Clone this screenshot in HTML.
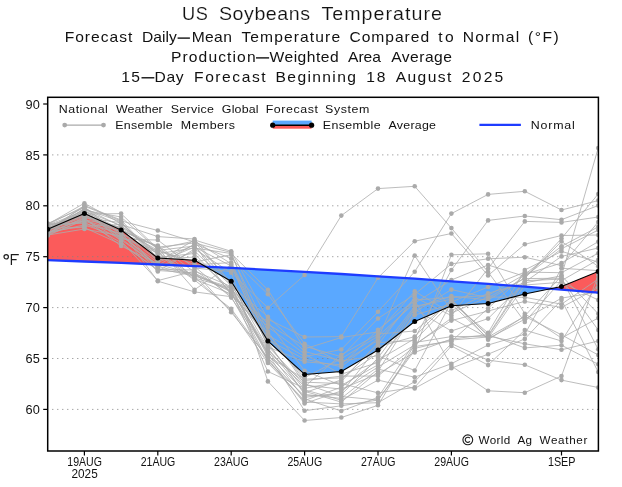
<!DOCTYPE html>
<html><head><meta charset="utf-8"><title>US Soybeans Temperature</title>
<style>html,body{margin:0;padding:0;background:#fff}svg{display:block;will-change:transform}text{font-family:"Liberation Sans",sans-serif;fill:#111}</style></head>
<body>
<svg width="622" height="487" viewBox="0 0 622 487">
<rect width="622" height="487" fill="#fff"/>
<defs><clipPath id="cp"><rect x="47.7" y="97.3" width="550.6999999999999" height="353.7"/></clipPath></defs>
<g clip-path="url(#cp)">
<polygon fill="#fb5b5b" points="47.7,229.3 84.4,213.4 121.1,230.0 157.8,258.0 194.5,260.3 205.7,266.7 205.7,266.7 194.5,266.1 157.8,264.5 121.1,262.9 84.4,261.5 47.7,260.2"/>
<polygon fill="#5aa8ff" points="205.7,266.7 231.2,281.2 267.9,341.0 304.6,374.4 341.3,371.5 378.0,350.0 414.7,321.5 451.4,305.7 488.1,303.6 524.8,294.0 550.3,288.7 550.3,288.7 524.8,286.7 488.1,283.9 451.4,281.3 414.7,278.7 378.0,276.3 341.3,274.0 304.6,271.9 267.9,269.8 231.2,267.9 205.7,266.7"/>
<polygon fill="#fb5b5b" points="550.3,288.7 561.5,286.4 598.2,271.6 598.2,292.6 561.5,289.6 550.3,288.7"/>
<line x1="52.3" x2="598.4" y1="409.4" y2="409.4" stroke="#808080" stroke-width="1" stroke-dasharray="1 4"/>
<line x1="52.3" x2="598.4" y1="358.5" y2="358.5" stroke="#808080" stroke-width="1" stroke-dasharray="1 4"/>
<line x1="52.3" x2="598.4" y1="307.6" y2="307.6" stroke="#808080" stroke-width="1" stroke-dasharray="1 4"/>
<line x1="52.3" x2="598.4" y1="256.7" y2="256.7" stroke="#808080" stroke-width="1" stroke-dasharray="1 4"/>
<line x1="52.3" x2="598.4" y1="205.8" y2="205.8" stroke="#808080" stroke-width="1" stroke-dasharray="1 4"/>
<line x1="52.3" x2="598.4" y1="154.9" y2="154.9" stroke="#808080" stroke-width="1" stroke-dasharray="1 4"/>
<g fill="none" stroke="#acacac" stroke-width="0.8" stroke-linejoin="round">
<polyline points="47.7,231.5 84.4,213.0 121.1,232.9 157.8,271.5 194.5,249.0 231.2,272.7 267.9,307.7 304.6,275.0 341.3,215.6 378.0,188.6 414.7,186.3 451.4,228.1 488.1,272.0 524.8,321.9 561.5,280.6 598.2,259.7"/>
<polyline points="47.7,233.9 84.4,210.3 121.1,217.0 157.8,249.6 194.5,264.8 231.2,262.6 267.9,335.1 304.6,356.6 341.3,349.5 378.0,311.8 414.7,271.7 451.4,213.6 488.1,194.4 524.8,191.3 561.5,210.0 598.2,200.6"/>
<polyline points="47.7,229.5 84.4,208.9 121.1,221.8 157.8,261.5 194.5,240.0 231.2,251.3 267.9,319.2 304.6,337.0 341.3,336.6 378.0,277.8 414.7,241.2 451.4,233.5 488.1,275.5 524.8,244.3 561.5,235.5 598.2,235.0"/>
<polyline points="47.7,227.1 84.4,221.0 121.1,234.5 157.8,245.5 194.5,272.0 231.2,312.2 267.9,357.6 304.6,397.4 341.3,392.8 378.0,346.8 414.7,336.6 451.4,299.2 488.1,339.7 524.8,316.0 561.5,275.9 598.2,148.0"/>
<polyline points="47.7,229.1 84.4,206.9 121.1,235.2 157.8,265.5 194.5,244.0 231.2,258.5 267.9,294.2 304.6,343.7 341.3,362.8 378.0,340.4 414.7,300.3 451.4,366.0 488.1,390.8 524.8,392.7 561.5,376.0 598.2,274.9"/>
<polyline points="47.7,226.3 84.4,212.3 121.1,239.2 157.8,240.0 194.5,268.0 231.2,271.6 267.9,381.4 304.6,420.5 341.3,417.5 378.0,405.3 414.7,344.5 451.4,320.6 488.1,311.0 524.8,301.4 561.5,307.4 598.2,287.7"/>
<polyline points="47.7,231.9 84.4,226.2 121.1,224.5 157.8,236.6 194.5,239.0 231.2,283.9 267.9,348.3 304.6,392.8 341.3,379.8 378.0,344.7 414.7,297.3 451.4,315.6 488.1,268.5 524.8,221.4 561.5,222.4 598.2,217.0"/>
<polyline points="47.7,235.5 84.4,219.6 121.1,227.3 157.8,252.0 194.5,277.0 231.2,310.5 267.9,362.9 304.6,400.5 341.3,387.2 378.0,360.2 414.7,338.6 451.4,270.0 488.1,220.4 524.8,216.0 561.5,219.7 598.2,205.5"/>
<polyline points="47.7,228.3 84.4,213.5 121.1,236.8 157.8,251.2 194.5,262.0 231.2,254.7 267.9,331.4 304.6,383.7 341.3,396.5 378.0,400.0 414.7,350.4 451.4,254.8 488.1,253.8 524.8,313.7 561.5,338.0 598.2,318.0"/>
<polyline points="47.7,227.5 84.4,214.2 121.1,213.6 157.8,248.8 194.5,241.0 231.2,263.7 267.9,340.0 304.6,359.2 341.3,366.7 378.0,338.3 414.7,255.6 451.4,310.6 488.1,293.2 524.8,282.9 561.5,275.8 598.2,313.7"/>
<polyline points="47.7,234.7 84.4,220.3 121.1,231.3 157.8,281.2 194.5,291.9 231.2,296.7 267.9,361.6 304.6,395.9 341.3,394.6 378.0,358.0 414.7,307.9 451.4,296.0 488.1,300.0 524.8,278.2 561.5,238.5 598.2,194.0"/>
<polyline points="47.7,234.3 84.4,208.2 121.1,226.4 157.8,248.0 194.5,289.7 231.2,264.8 267.9,347.0 304.6,361.8 341.3,364.8 378.0,329.8 414.7,300.0 451.4,297.6 488.1,295.5 524.8,274.3 561.5,246.3 598.2,226.9"/>
<polyline points="47.7,232.3 84.4,218.3 121.1,246.0 157.8,263.5 194.5,266.5 231.2,297.6 267.9,352.3 304.6,382.2 341.3,383.5 378.0,392.9 414.7,387.3 451.4,346.0 488.1,365.1 524.8,330.1 561.5,341.0 598.2,283.4"/>
<polyline points="47.7,226.7 84.4,222.0 121.1,242.7 157.8,270.5 194.5,273.0 231.2,292.1 267.9,360.2 304.6,402.0 341.3,403.9 378.0,402.7 414.7,381.6 451.4,343.6 488.1,360.2 524.8,364.8 561.5,380.1 598.2,387.5"/>
<polyline points="47.7,231.1 84.4,205.5 121.1,220.0 157.8,259.5 194.5,257.0 231.2,289.4 267.9,326.9 304.6,354.0 341.3,374.2 378.0,362.5 414.7,315.1 451.4,303.9 488.1,338.7 524.8,319.2 561.5,298.1 598.2,292.0"/>
<polyline points="47.7,235.1 84.4,229.0 121.1,236.0 157.8,262.5 194.5,247.0 231.2,266.0 267.9,346.0 304.6,385.2 341.3,389.1 378.0,373.8 414.7,352.4 451.4,339.0 488.1,334.6 524.8,347.9 561.5,345.2 598.2,364.3"/>
<polyline points="47.7,225.1 84.4,211.0 121.1,225.5 157.8,254.5 194.5,280.0 231.2,308.8 267.9,358.9 304.6,403.5 341.3,390.9 378.0,367.0 414.7,345.0 451.4,318.1 488.1,338.0 524.8,285.0 561.5,282.3 598.2,300.0"/>
<polyline points="47.7,228.7 84.4,209.6 121.1,241.0 157.8,280.6 194.5,271.0 231.2,286.6 267.9,353.6 304.6,410.7 341.3,405.8 378.0,400.0 414.7,348.4 451.4,340.0 488.1,337.0 524.8,316.4 561.5,334.8 598.2,355.0"/>
<polyline points="47.7,223.9 84.4,223.4 121.1,233.7 157.8,266.5 194.5,275.0 231.2,291.2 267.9,371.5 304.6,388.3 341.3,381.6 378.0,342.6 414.7,340.6 451.4,302.3 488.1,332.9 524.8,270.0 561.5,251.4 598.2,262.0"/>
<polyline points="47.7,225.5 84.4,216.2 121.1,230.0 157.8,247.1 194.5,243.0 231.2,252.5 267.9,344.0 304.6,389.8 341.3,400.2 378.0,380.1 414.7,388.4 451.4,368.2 488.1,354.2 524.8,338.9 561.5,300.0 598.2,372.0"/>
<polyline points="47.7,224.3 84.4,203.2 121.1,223.6 157.8,253.7 194.5,248.0 231.2,253.5 267.9,289.7 304.6,348.9 341.3,337.5 378.0,331.9 414.7,291.4 451.4,313.1 488.1,297.0 524.8,297.3 561.5,304.2 598.2,279.1"/>
<polyline points="47.7,229.9 84.4,216.9 121.1,232.1 157.8,260.5 194.5,245.0 231.2,294.9 267.9,333.3 304.6,380.6 341.3,376.1 378.0,376.0 414.7,346.5 451.4,341.3 488.1,308.3 524.8,274.4 561.5,263.0 598.2,241.7"/>
<polyline points="47.7,225.9 84.4,214.9 121.1,230.5 157.8,246.3 194.5,278.0 231.2,288.5 267.9,356.3 304.6,379.1 341.3,377.9 378.0,353.5 414.7,306.2 451.4,299.3 488.1,336.0 524.8,343.8 561.5,349.8 598.2,341.0"/>
<polyline points="47.7,233.5 84.4,217.6 121.1,222.7 157.8,257.5 194.5,253.5 231.2,293.0 267.9,337.0 304.6,377.6 341.3,358.7 378.0,336.2 414.7,303.2 451.4,280.0 488.1,265.0 524.8,276.4 561.5,248.8 598.2,230.0"/>
<polyline points="47.7,233.1 84.4,224.8 121.1,237.6 157.8,252.9 194.5,279.0 231.2,294.0 267.9,351.0 304.6,398.9 341.3,411.0 378.0,397.4 414.7,342.5 451.4,336.6 488.1,336.3 524.8,280.7 561.5,279.1 598.2,330.0"/>
<polyline points="47.7,230.3 84.4,215.5 121.1,228.2 157.8,268.5 194.5,276.0 231.2,287.6 267.9,355.0 304.6,391.3 341.3,402.1 378.0,371.5 414.7,312.1 451.4,289.6 488.1,297.7 524.8,278.0 561.5,241.5 598.2,266.3"/>
<polyline points="47.7,223.5 84.4,207.5 121.1,238.4 157.8,267.5 194.5,251.0 231.2,285.7 267.9,316.7 304.6,351.5 341.3,360.8 378.0,355.8 414.7,370.5 451.4,302.0 488.1,287.0 524.8,272.1 561.5,272.7 598.2,253.2"/>
<polyline points="47.7,227.9 84.4,227.6 121.1,244.3 157.8,269.5 194.5,270.0 231.2,295.8 267.9,321.8 304.6,370.8 341.3,385.4 378.0,364.8 414.7,309.2 451.4,331.0 488.1,318.6 524.8,282.0 561.5,256.4 598.2,248.0"/>
<polyline points="47.7,230.7 84.4,211.6 121.1,229.1 157.8,250.4 194.5,246.0 231.2,284.8 267.9,342.0 304.6,394.4 341.3,398.4 378.0,369.2 414.7,377.2 451.4,363.7 488.1,345.0 524.8,334.2 561.5,268.3 598.2,270.6"/>
<polyline points="47.7,232.7 84.4,219.0 121.1,240.0 157.8,264.5 194.5,274.0 231.2,290.3 267.9,349.6 304.6,386.7 341.3,354.7 378.0,334.0 414.7,331.0 451.4,300.7 488.1,335.3 524.8,278.6 561.5,278.2 598.2,349.3"/>
<polyline points="47.7,224.7 84.4,206.2 121.1,220.9 157.8,230.5 194.5,242.0 231.2,283.0 267.9,324.3 304.6,346.3 341.3,356.7 378.0,318.5 414.7,294.4 451.4,263.9 488.1,258.8 524.8,257.2 561.5,265.6 598.2,222.0"/>
</g>
<g fill="#aaaaaa">
<circle cx="47.7" cy="231.5" r="2.3"/>
<circle cx="84.4" cy="213.0" r="2.3"/>
<circle cx="121.1" cy="232.9" r="2.3"/>
<circle cx="157.8" cy="271.5" r="2.3"/>
<circle cx="194.5" cy="249.0" r="2.3"/>
<circle cx="231.2" cy="272.7" r="2.3"/>
<circle cx="267.9" cy="307.7" r="2.3"/>
<circle cx="304.6" cy="275.0" r="2.3"/>
<circle cx="341.3" cy="215.6" r="2.3"/>
<circle cx="378.0" cy="188.6" r="2.3"/>
<circle cx="414.7" cy="186.3" r="2.3"/>
<circle cx="451.4" cy="228.1" r="2.3"/>
<circle cx="488.1" cy="272.0" r="2.3"/>
<circle cx="524.8" cy="321.9" r="2.3"/>
<circle cx="561.5" cy="280.6" r="2.3"/>
<circle cx="598.2" cy="259.7" r="2.3"/>
<circle cx="47.7" cy="233.9" r="2.3"/>
<circle cx="84.4" cy="210.3" r="2.3"/>
<circle cx="121.1" cy="217.0" r="2.3"/>
<circle cx="157.8" cy="249.6" r="2.3"/>
<circle cx="194.5" cy="264.8" r="2.3"/>
<circle cx="231.2" cy="262.6" r="2.3"/>
<circle cx="267.9" cy="335.1" r="2.3"/>
<circle cx="304.6" cy="356.6" r="2.3"/>
<circle cx="341.3" cy="349.5" r="2.3"/>
<circle cx="378.0" cy="311.8" r="2.3"/>
<circle cx="414.7" cy="271.7" r="2.3"/>
<circle cx="451.4" cy="213.6" r="2.3"/>
<circle cx="488.1" cy="194.4" r="2.3"/>
<circle cx="524.8" cy="191.3" r="2.3"/>
<circle cx="561.5" cy="210.0" r="2.3"/>
<circle cx="598.2" cy="200.6" r="2.3"/>
<circle cx="47.7" cy="229.5" r="2.3"/>
<circle cx="84.4" cy="208.9" r="2.3"/>
<circle cx="121.1" cy="221.8" r="2.3"/>
<circle cx="157.8" cy="261.5" r="2.3"/>
<circle cx="194.5" cy="240.0" r="2.3"/>
<circle cx="231.2" cy="251.3" r="2.3"/>
<circle cx="267.9" cy="319.2" r="2.3"/>
<circle cx="304.6" cy="337.0" r="2.3"/>
<circle cx="341.3" cy="336.6" r="2.3"/>
<circle cx="378.0" cy="277.8" r="2.3"/>
<circle cx="414.7" cy="241.2" r="2.3"/>
<circle cx="451.4" cy="233.5" r="2.3"/>
<circle cx="488.1" cy="275.5" r="2.3"/>
<circle cx="524.8" cy="244.3" r="2.3"/>
<circle cx="561.5" cy="235.5" r="2.3"/>
<circle cx="598.2" cy="235.0" r="2.3"/>
<circle cx="47.7" cy="227.1" r="2.3"/>
<circle cx="84.4" cy="221.0" r="2.3"/>
<circle cx="121.1" cy="234.5" r="2.3"/>
<circle cx="157.8" cy="245.5" r="2.3"/>
<circle cx="194.5" cy="272.0" r="2.3"/>
<circle cx="231.2" cy="312.2" r="2.3"/>
<circle cx="267.9" cy="357.6" r="2.3"/>
<circle cx="304.6" cy="397.4" r="2.3"/>
<circle cx="341.3" cy="392.8" r="2.3"/>
<circle cx="378.0" cy="346.8" r="2.3"/>
<circle cx="414.7" cy="336.6" r="2.3"/>
<circle cx="451.4" cy="299.2" r="2.3"/>
<circle cx="488.1" cy="339.7" r="2.3"/>
<circle cx="524.8" cy="316.0" r="2.3"/>
<circle cx="561.5" cy="275.9" r="2.3"/>
<circle cx="598.2" cy="148.0" r="2.3"/>
<circle cx="47.7" cy="229.1" r="2.3"/>
<circle cx="84.4" cy="206.9" r="2.3"/>
<circle cx="121.1" cy="235.2" r="2.3"/>
<circle cx="157.8" cy="265.5" r="2.3"/>
<circle cx="194.5" cy="244.0" r="2.3"/>
<circle cx="231.2" cy="258.5" r="2.3"/>
<circle cx="267.9" cy="294.2" r="2.3"/>
<circle cx="304.6" cy="343.7" r="2.3"/>
<circle cx="341.3" cy="362.8" r="2.3"/>
<circle cx="378.0" cy="340.4" r="2.3"/>
<circle cx="414.7" cy="300.3" r="2.3"/>
<circle cx="451.4" cy="366.0" r="2.3"/>
<circle cx="488.1" cy="390.8" r="2.3"/>
<circle cx="524.8" cy="392.7" r="2.3"/>
<circle cx="561.5" cy="376.0" r="2.3"/>
<circle cx="598.2" cy="274.9" r="2.3"/>
<circle cx="47.7" cy="226.3" r="2.3"/>
<circle cx="84.4" cy="212.3" r="2.3"/>
<circle cx="121.1" cy="239.2" r="2.3"/>
<circle cx="157.8" cy="240.0" r="2.3"/>
<circle cx="194.5" cy="268.0" r="2.3"/>
<circle cx="231.2" cy="271.6" r="2.3"/>
<circle cx="267.9" cy="381.4" r="2.3"/>
<circle cx="304.6" cy="420.5" r="2.3"/>
<circle cx="341.3" cy="417.5" r="2.3"/>
<circle cx="378.0" cy="405.3" r="2.3"/>
<circle cx="414.7" cy="344.5" r="2.3"/>
<circle cx="451.4" cy="320.6" r="2.3"/>
<circle cx="488.1" cy="311.0" r="2.3"/>
<circle cx="524.8" cy="301.4" r="2.3"/>
<circle cx="561.5" cy="307.4" r="2.3"/>
<circle cx="598.2" cy="287.7" r="2.3"/>
<circle cx="47.7" cy="231.9" r="2.3"/>
<circle cx="84.4" cy="226.2" r="2.3"/>
<circle cx="121.1" cy="224.5" r="2.3"/>
<circle cx="157.8" cy="236.6" r="2.3"/>
<circle cx="194.5" cy="239.0" r="2.3"/>
<circle cx="231.2" cy="283.9" r="2.3"/>
<circle cx="267.9" cy="348.3" r="2.3"/>
<circle cx="304.6" cy="392.8" r="2.3"/>
<circle cx="341.3" cy="379.8" r="2.3"/>
<circle cx="378.0" cy="344.7" r="2.3"/>
<circle cx="414.7" cy="297.3" r="2.3"/>
<circle cx="451.4" cy="315.6" r="2.3"/>
<circle cx="488.1" cy="268.5" r="2.3"/>
<circle cx="524.8" cy="221.4" r="2.3"/>
<circle cx="561.5" cy="222.4" r="2.3"/>
<circle cx="598.2" cy="217.0" r="2.3"/>
<circle cx="47.7" cy="235.5" r="2.3"/>
<circle cx="84.4" cy="219.6" r="2.3"/>
<circle cx="121.1" cy="227.3" r="2.3"/>
<circle cx="157.8" cy="252.0" r="2.3"/>
<circle cx="194.5" cy="277.0" r="2.3"/>
<circle cx="231.2" cy="310.5" r="2.3"/>
<circle cx="267.9" cy="362.9" r="2.3"/>
<circle cx="304.6" cy="400.5" r="2.3"/>
<circle cx="341.3" cy="387.2" r="2.3"/>
<circle cx="378.0" cy="360.2" r="2.3"/>
<circle cx="414.7" cy="338.6" r="2.3"/>
<circle cx="451.4" cy="270.0" r="2.3"/>
<circle cx="488.1" cy="220.4" r="2.3"/>
<circle cx="524.8" cy="216.0" r="2.3"/>
<circle cx="561.5" cy="219.7" r="2.3"/>
<circle cx="598.2" cy="205.5" r="2.3"/>
<circle cx="47.7" cy="228.3" r="2.3"/>
<circle cx="84.4" cy="213.5" r="2.3"/>
<circle cx="121.1" cy="236.8" r="2.3"/>
<circle cx="157.8" cy="251.2" r="2.3"/>
<circle cx="194.5" cy="262.0" r="2.3"/>
<circle cx="231.2" cy="254.7" r="2.3"/>
<circle cx="267.9" cy="331.4" r="2.3"/>
<circle cx="304.6" cy="383.7" r="2.3"/>
<circle cx="341.3" cy="396.5" r="2.3"/>
<circle cx="378.0" cy="400.0" r="2.3"/>
<circle cx="414.7" cy="350.4" r="2.3"/>
<circle cx="451.4" cy="254.8" r="2.3"/>
<circle cx="488.1" cy="253.8" r="2.3"/>
<circle cx="524.8" cy="313.7" r="2.3"/>
<circle cx="561.5" cy="338.0" r="2.3"/>
<circle cx="598.2" cy="318.0" r="2.3"/>
<circle cx="47.7" cy="227.5" r="2.3"/>
<circle cx="84.4" cy="214.2" r="2.3"/>
<circle cx="121.1" cy="213.6" r="2.3"/>
<circle cx="157.8" cy="248.8" r="2.3"/>
<circle cx="194.5" cy="241.0" r="2.3"/>
<circle cx="231.2" cy="263.7" r="2.3"/>
<circle cx="267.9" cy="340.0" r="2.3"/>
<circle cx="304.6" cy="359.2" r="2.3"/>
<circle cx="341.3" cy="366.7" r="2.3"/>
<circle cx="378.0" cy="338.3" r="2.3"/>
<circle cx="414.7" cy="255.6" r="2.3"/>
<circle cx="451.4" cy="310.6" r="2.3"/>
<circle cx="488.1" cy="293.2" r="2.3"/>
<circle cx="524.8" cy="282.9" r="2.3"/>
<circle cx="561.5" cy="275.8" r="2.3"/>
<circle cx="598.2" cy="313.7" r="2.3"/>
<circle cx="47.7" cy="234.7" r="2.3"/>
<circle cx="84.4" cy="220.3" r="2.3"/>
<circle cx="121.1" cy="231.3" r="2.3"/>
<circle cx="157.8" cy="281.2" r="2.3"/>
<circle cx="194.5" cy="291.9" r="2.3"/>
<circle cx="231.2" cy="296.7" r="2.3"/>
<circle cx="267.9" cy="361.6" r="2.3"/>
<circle cx="304.6" cy="395.9" r="2.3"/>
<circle cx="341.3" cy="394.6" r="2.3"/>
<circle cx="378.0" cy="358.0" r="2.3"/>
<circle cx="414.7" cy="307.9" r="2.3"/>
<circle cx="451.4" cy="296.0" r="2.3"/>
<circle cx="488.1" cy="300.0" r="2.3"/>
<circle cx="524.8" cy="278.2" r="2.3"/>
<circle cx="561.5" cy="238.5" r="2.3"/>
<circle cx="598.2" cy="194.0" r="2.3"/>
<circle cx="47.7" cy="234.3" r="2.3"/>
<circle cx="84.4" cy="208.2" r="2.3"/>
<circle cx="121.1" cy="226.4" r="2.3"/>
<circle cx="157.8" cy="248.0" r="2.3"/>
<circle cx="194.5" cy="289.7" r="2.3"/>
<circle cx="231.2" cy="264.8" r="2.3"/>
<circle cx="267.9" cy="347.0" r="2.3"/>
<circle cx="304.6" cy="361.8" r="2.3"/>
<circle cx="341.3" cy="364.8" r="2.3"/>
<circle cx="378.0" cy="329.8" r="2.3"/>
<circle cx="414.7" cy="300.0" r="2.3"/>
<circle cx="451.4" cy="297.6" r="2.3"/>
<circle cx="488.1" cy="295.5" r="2.3"/>
<circle cx="524.8" cy="274.3" r="2.3"/>
<circle cx="561.5" cy="246.3" r="2.3"/>
<circle cx="598.2" cy="226.9" r="2.3"/>
<circle cx="47.7" cy="232.3" r="2.3"/>
<circle cx="84.4" cy="218.3" r="2.3"/>
<circle cx="121.1" cy="246.0" r="2.3"/>
<circle cx="157.8" cy="263.5" r="2.3"/>
<circle cx="194.5" cy="266.5" r="2.3"/>
<circle cx="231.2" cy="297.6" r="2.3"/>
<circle cx="267.9" cy="352.3" r="2.3"/>
<circle cx="304.6" cy="382.2" r="2.3"/>
<circle cx="341.3" cy="383.5" r="2.3"/>
<circle cx="378.0" cy="392.9" r="2.3"/>
<circle cx="414.7" cy="387.3" r="2.3"/>
<circle cx="451.4" cy="346.0" r="2.3"/>
<circle cx="488.1" cy="365.1" r="2.3"/>
<circle cx="524.8" cy="330.1" r="2.3"/>
<circle cx="561.5" cy="341.0" r="2.3"/>
<circle cx="598.2" cy="283.4" r="2.3"/>
<circle cx="47.7" cy="226.7" r="2.3"/>
<circle cx="84.4" cy="222.0" r="2.3"/>
<circle cx="121.1" cy="242.7" r="2.3"/>
<circle cx="157.8" cy="270.5" r="2.3"/>
<circle cx="194.5" cy="273.0" r="2.3"/>
<circle cx="231.2" cy="292.1" r="2.3"/>
<circle cx="267.9" cy="360.2" r="2.3"/>
<circle cx="304.6" cy="402.0" r="2.3"/>
<circle cx="341.3" cy="403.9" r="2.3"/>
<circle cx="378.0" cy="402.7" r="2.3"/>
<circle cx="414.7" cy="381.6" r="2.3"/>
<circle cx="451.4" cy="343.6" r="2.3"/>
<circle cx="488.1" cy="360.2" r="2.3"/>
<circle cx="524.8" cy="364.8" r="2.3"/>
<circle cx="561.5" cy="380.1" r="2.3"/>
<circle cx="598.2" cy="387.5" r="2.3"/>
<circle cx="47.7" cy="231.1" r="2.3"/>
<circle cx="84.4" cy="205.5" r="2.3"/>
<circle cx="121.1" cy="220.0" r="2.3"/>
<circle cx="157.8" cy="259.5" r="2.3"/>
<circle cx="194.5" cy="257.0" r="2.3"/>
<circle cx="231.2" cy="289.4" r="2.3"/>
<circle cx="267.9" cy="326.9" r="2.3"/>
<circle cx="304.6" cy="354.0" r="2.3"/>
<circle cx="341.3" cy="374.2" r="2.3"/>
<circle cx="378.0" cy="362.5" r="2.3"/>
<circle cx="414.7" cy="315.1" r="2.3"/>
<circle cx="451.4" cy="303.9" r="2.3"/>
<circle cx="488.1" cy="338.7" r="2.3"/>
<circle cx="524.8" cy="319.2" r="2.3"/>
<circle cx="561.5" cy="298.1" r="2.3"/>
<circle cx="598.2" cy="292.0" r="2.3"/>
<circle cx="47.7" cy="235.1" r="2.3"/>
<circle cx="84.4" cy="229.0" r="2.3"/>
<circle cx="121.1" cy="236.0" r="2.3"/>
<circle cx="157.8" cy="262.5" r="2.3"/>
<circle cx="194.5" cy="247.0" r="2.3"/>
<circle cx="231.2" cy="266.0" r="2.3"/>
<circle cx="267.9" cy="346.0" r="2.3"/>
<circle cx="304.6" cy="385.2" r="2.3"/>
<circle cx="341.3" cy="389.1" r="2.3"/>
<circle cx="378.0" cy="373.8" r="2.3"/>
<circle cx="414.7" cy="352.4" r="2.3"/>
<circle cx="451.4" cy="339.0" r="2.3"/>
<circle cx="488.1" cy="334.6" r="2.3"/>
<circle cx="524.8" cy="347.9" r="2.3"/>
<circle cx="561.5" cy="345.2" r="2.3"/>
<circle cx="598.2" cy="364.3" r="2.3"/>
<circle cx="47.7" cy="225.1" r="2.3"/>
<circle cx="84.4" cy="211.0" r="2.3"/>
<circle cx="121.1" cy="225.5" r="2.3"/>
<circle cx="157.8" cy="254.5" r="2.3"/>
<circle cx="194.5" cy="280.0" r="2.3"/>
<circle cx="231.2" cy="308.8" r="2.3"/>
<circle cx="267.9" cy="358.9" r="2.3"/>
<circle cx="304.6" cy="403.5" r="2.3"/>
<circle cx="341.3" cy="390.9" r="2.3"/>
<circle cx="378.0" cy="367.0" r="2.3"/>
<circle cx="414.7" cy="345.0" r="2.3"/>
<circle cx="451.4" cy="318.1" r="2.3"/>
<circle cx="488.1" cy="338.0" r="2.3"/>
<circle cx="524.8" cy="285.0" r="2.3"/>
<circle cx="561.5" cy="282.3" r="2.3"/>
<circle cx="598.2" cy="300.0" r="2.3"/>
<circle cx="47.7" cy="228.7" r="2.3"/>
<circle cx="84.4" cy="209.6" r="2.3"/>
<circle cx="121.1" cy="241.0" r="2.3"/>
<circle cx="157.8" cy="280.6" r="2.3"/>
<circle cx="194.5" cy="271.0" r="2.3"/>
<circle cx="231.2" cy="286.6" r="2.3"/>
<circle cx="267.9" cy="353.6" r="2.3"/>
<circle cx="304.6" cy="410.7" r="2.3"/>
<circle cx="341.3" cy="405.8" r="2.3"/>
<circle cx="378.0" cy="400.0" r="2.3"/>
<circle cx="414.7" cy="348.4" r="2.3"/>
<circle cx="451.4" cy="340.0" r="2.3"/>
<circle cx="488.1" cy="337.0" r="2.3"/>
<circle cx="524.8" cy="316.4" r="2.3"/>
<circle cx="561.5" cy="334.8" r="2.3"/>
<circle cx="598.2" cy="355.0" r="2.3"/>
<circle cx="47.7" cy="223.9" r="2.3"/>
<circle cx="84.4" cy="223.4" r="2.3"/>
<circle cx="121.1" cy="233.7" r="2.3"/>
<circle cx="157.8" cy="266.5" r="2.3"/>
<circle cx="194.5" cy="275.0" r="2.3"/>
<circle cx="231.2" cy="291.2" r="2.3"/>
<circle cx="267.9" cy="371.5" r="2.3"/>
<circle cx="304.6" cy="388.3" r="2.3"/>
<circle cx="341.3" cy="381.6" r="2.3"/>
<circle cx="378.0" cy="342.6" r="2.3"/>
<circle cx="414.7" cy="340.6" r="2.3"/>
<circle cx="451.4" cy="302.3" r="2.3"/>
<circle cx="488.1" cy="332.9" r="2.3"/>
<circle cx="524.8" cy="270.0" r="2.3"/>
<circle cx="561.5" cy="251.4" r="2.3"/>
<circle cx="598.2" cy="262.0" r="2.3"/>
<circle cx="47.7" cy="225.5" r="2.3"/>
<circle cx="84.4" cy="216.2" r="2.3"/>
<circle cx="121.1" cy="230.0" r="2.3"/>
<circle cx="157.8" cy="247.1" r="2.3"/>
<circle cx="194.5" cy="243.0" r="2.3"/>
<circle cx="231.2" cy="252.5" r="2.3"/>
<circle cx="267.9" cy="344.0" r="2.3"/>
<circle cx="304.6" cy="389.8" r="2.3"/>
<circle cx="341.3" cy="400.2" r="2.3"/>
<circle cx="378.0" cy="380.1" r="2.3"/>
<circle cx="414.7" cy="388.4" r="2.3"/>
<circle cx="451.4" cy="368.2" r="2.3"/>
<circle cx="488.1" cy="354.2" r="2.3"/>
<circle cx="524.8" cy="338.9" r="2.3"/>
<circle cx="561.5" cy="300.0" r="2.3"/>
<circle cx="598.2" cy="372.0" r="2.3"/>
<circle cx="47.7" cy="224.3" r="2.3"/>
<circle cx="84.4" cy="203.2" r="2.3"/>
<circle cx="121.1" cy="223.6" r="2.3"/>
<circle cx="157.8" cy="253.7" r="2.3"/>
<circle cx="194.5" cy="248.0" r="2.3"/>
<circle cx="231.2" cy="253.5" r="2.3"/>
<circle cx="267.9" cy="289.7" r="2.3"/>
<circle cx="304.6" cy="348.9" r="2.3"/>
<circle cx="341.3" cy="337.5" r="2.3"/>
<circle cx="378.0" cy="331.9" r="2.3"/>
<circle cx="414.7" cy="291.4" r="2.3"/>
<circle cx="451.4" cy="313.1" r="2.3"/>
<circle cx="488.1" cy="297.0" r="2.3"/>
<circle cx="524.8" cy="297.3" r="2.3"/>
<circle cx="561.5" cy="304.2" r="2.3"/>
<circle cx="598.2" cy="279.1" r="2.3"/>
<circle cx="47.7" cy="229.9" r="2.3"/>
<circle cx="84.4" cy="216.9" r="2.3"/>
<circle cx="121.1" cy="232.1" r="2.3"/>
<circle cx="157.8" cy="260.5" r="2.3"/>
<circle cx="194.5" cy="245.0" r="2.3"/>
<circle cx="231.2" cy="294.9" r="2.3"/>
<circle cx="267.9" cy="333.3" r="2.3"/>
<circle cx="304.6" cy="380.6" r="2.3"/>
<circle cx="341.3" cy="376.1" r="2.3"/>
<circle cx="378.0" cy="376.0" r="2.3"/>
<circle cx="414.7" cy="346.5" r="2.3"/>
<circle cx="451.4" cy="341.3" r="2.3"/>
<circle cx="488.1" cy="308.3" r="2.3"/>
<circle cx="524.8" cy="274.4" r="2.3"/>
<circle cx="561.5" cy="263.0" r="2.3"/>
<circle cx="598.2" cy="241.7" r="2.3"/>
<circle cx="47.7" cy="225.9" r="2.3"/>
<circle cx="84.4" cy="214.9" r="2.3"/>
<circle cx="121.1" cy="230.5" r="2.3"/>
<circle cx="157.8" cy="246.3" r="2.3"/>
<circle cx="194.5" cy="278.0" r="2.3"/>
<circle cx="231.2" cy="288.5" r="2.3"/>
<circle cx="267.9" cy="356.3" r="2.3"/>
<circle cx="304.6" cy="379.1" r="2.3"/>
<circle cx="341.3" cy="377.9" r="2.3"/>
<circle cx="378.0" cy="353.5" r="2.3"/>
<circle cx="414.7" cy="306.2" r="2.3"/>
<circle cx="451.4" cy="299.3" r="2.3"/>
<circle cx="488.1" cy="336.0" r="2.3"/>
<circle cx="524.8" cy="343.8" r="2.3"/>
<circle cx="561.5" cy="349.8" r="2.3"/>
<circle cx="598.2" cy="341.0" r="2.3"/>
<circle cx="47.7" cy="233.5" r="2.3"/>
<circle cx="84.4" cy="217.6" r="2.3"/>
<circle cx="121.1" cy="222.7" r="2.3"/>
<circle cx="157.8" cy="257.5" r="2.3"/>
<circle cx="194.5" cy="253.5" r="2.3"/>
<circle cx="231.2" cy="293.0" r="2.3"/>
<circle cx="267.9" cy="337.0" r="2.3"/>
<circle cx="304.6" cy="377.6" r="2.3"/>
<circle cx="341.3" cy="358.7" r="2.3"/>
<circle cx="378.0" cy="336.2" r="2.3"/>
<circle cx="414.7" cy="303.2" r="2.3"/>
<circle cx="451.4" cy="280.0" r="2.3"/>
<circle cx="488.1" cy="265.0" r="2.3"/>
<circle cx="524.8" cy="276.4" r="2.3"/>
<circle cx="561.5" cy="248.8" r="2.3"/>
<circle cx="598.2" cy="230.0" r="2.3"/>
<circle cx="47.7" cy="233.1" r="2.3"/>
<circle cx="84.4" cy="224.8" r="2.3"/>
<circle cx="121.1" cy="237.6" r="2.3"/>
<circle cx="157.8" cy="252.9" r="2.3"/>
<circle cx="194.5" cy="279.0" r="2.3"/>
<circle cx="231.2" cy="294.0" r="2.3"/>
<circle cx="267.9" cy="351.0" r="2.3"/>
<circle cx="304.6" cy="398.9" r="2.3"/>
<circle cx="341.3" cy="411.0" r="2.3"/>
<circle cx="378.0" cy="397.4" r="2.3"/>
<circle cx="414.7" cy="342.5" r="2.3"/>
<circle cx="451.4" cy="336.6" r="2.3"/>
<circle cx="488.1" cy="336.3" r="2.3"/>
<circle cx="524.8" cy="280.7" r="2.3"/>
<circle cx="561.5" cy="279.1" r="2.3"/>
<circle cx="598.2" cy="330.0" r="2.3"/>
<circle cx="47.7" cy="230.3" r="2.3"/>
<circle cx="84.4" cy="215.5" r="2.3"/>
<circle cx="121.1" cy="228.2" r="2.3"/>
<circle cx="157.8" cy="268.5" r="2.3"/>
<circle cx="194.5" cy="276.0" r="2.3"/>
<circle cx="231.2" cy="287.6" r="2.3"/>
<circle cx="267.9" cy="355.0" r="2.3"/>
<circle cx="304.6" cy="391.3" r="2.3"/>
<circle cx="341.3" cy="402.1" r="2.3"/>
<circle cx="378.0" cy="371.5" r="2.3"/>
<circle cx="414.7" cy="312.1" r="2.3"/>
<circle cx="451.4" cy="289.6" r="2.3"/>
<circle cx="488.1" cy="297.7" r="2.3"/>
<circle cx="524.8" cy="278.0" r="2.3"/>
<circle cx="561.5" cy="241.5" r="2.3"/>
<circle cx="598.2" cy="266.3" r="2.3"/>
<circle cx="47.7" cy="223.5" r="2.3"/>
<circle cx="84.4" cy="207.5" r="2.3"/>
<circle cx="121.1" cy="238.4" r="2.3"/>
<circle cx="157.8" cy="267.5" r="2.3"/>
<circle cx="194.5" cy="251.0" r="2.3"/>
<circle cx="231.2" cy="285.7" r="2.3"/>
<circle cx="267.9" cy="316.7" r="2.3"/>
<circle cx="304.6" cy="351.5" r="2.3"/>
<circle cx="341.3" cy="360.8" r="2.3"/>
<circle cx="378.0" cy="355.8" r="2.3"/>
<circle cx="414.7" cy="370.5" r="2.3"/>
<circle cx="451.4" cy="302.0" r="2.3"/>
<circle cx="488.1" cy="287.0" r="2.3"/>
<circle cx="524.8" cy="272.1" r="2.3"/>
<circle cx="561.5" cy="272.7" r="2.3"/>
<circle cx="598.2" cy="253.2" r="2.3"/>
<circle cx="47.7" cy="227.9" r="2.3"/>
<circle cx="84.4" cy="227.6" r="2.3"/>
<circle cx="121.1" cy="244.3" r="2.3"/>
<circle cx="157.8" cy="269.5" r="2.3"/>
<circle cx="194.5" cy="270.0" r="2.3"/>
<circle cx="231.2" cy="295.8" r="2.3"/>
<circle cx="267.9" cy="321.8" r="2.3"/>
<circle cx="304.6" cy="370.8" r="2.3"/>
<circle cx="341.3" cy="385.4" r="2.3"/>
<circle cx="378.0" cy="364.8" r="2.3"/>
<circle cx="414.7" cy="309.2" r="2.3"/>
<circle cx="451.4" cy="331.0" r="2.3"/>
<circle cx="488.1" cy="318.6" r="2.3"/>
<circle cx="524.8" cy="282.0" r="2.3"/>
<circle cx="561.5" cy="256.4" r="2.3"/>
<circle cx="598.2" cy="248.0" r="2.3"/>
<circle cx="47.7" cy="230.7" r="2.3"/>
<circle cx="84.4" cy="211.6" r="2.3"/>
<circle cx="121.1" cy="229.1" r="2.3"/>
<circle cx="157.8" cy="250.4" r="2.3"/>
<circle cx="194.5" cy="246.0" r="2.3"/>
<circle cx="231.2" cy="284.8" r="2.3"/>
<circle cx="267.9" cy="342.0" r="2.3"/>
<circle cx="304.6" cy="394.4" r="2.3"/>
<circle cx="341.3" cy="398.4" r="2.3"/>
<circle cx="378.0" cy="369.2" r="2.3"/>
<circle cx="414.7" cy="377.2" r="2.3"/>
<circle cx="451.4" cy="363.7" r="2.3"/>
<circle cx="488.1" cy="345.0" r="2.3"/>
<circle cx="524.8" cy="334.2" r="2.3"/>
<circle cx="561.5" cy="268.3" r="2.3"/>
<circle cx="598.2" cy="270.6" r="2.3"/>
<circle cx="47.7" cy="232.7" r="2.3"/>
<circle cx="84.4" cy="219.0" r="2.3"/>
<circle cx="121.1" cy="240.0" r="2.3"/>
<circle cx="157.8" cy="264.5" r="2.3"/>
<circle cx="194.5" cy="274.0" r="2.3"/>
<circle cx="231.2" cy="290.3" r="2.3"/>
<circle cx="267.9" cy="349.6" r="2.3"/>
<circle cx="304.6" cy="386.7" r="2.3"/>
<circle cx="341.3" cy="354.7" r="2.3"/>
<circle cx="378.0" cy="334.0" r="2.3"/>
<circle cx="414.7" cy="331.0" r="2.3"/>
<circle cx="451.4" cy="300.7" r="2.3"/>
<circle cx="488.1" cy="335.3" r="2.3"/>
<circle cx="524.8" cy="278.6" r="2.3"/>
<circle cx="561.5" cy="278.2" r="2.3"/>
<circle cx="598.2" cy="349.3" r="2.3"/>
<circle cx="47.7" cy="224.7" r="2.3"/>
<circle cx="84.4" cy="206.2" r="2.3"/>
<circle cx="121.1" cy="220.9" r="2.3"/>
<circle cx="157.8" cy="230.5" r="2.3"/>
<circle cx="194.5" cy="242.0" r="2.3"/>
<circle cx="231.2" cy="283.0" r="2.3"/>
<circle cx="267.9" cy="324.3" r="2.3"/>
<circle cx="304.6" cy="346.3" r="2.3"/>
<circle cx="341.3" cy="356.7" r="2.3"/>
<circle cx="378.0" cy="318.5" r="2.3"/>
<circle cx="414.7" cy="294.4" r="2.3"/>
<circle cx="451.4" cy="263.9" r="2.3"/>
<circle cx="488.1" cy="258.8" r="2.3"/>
<circle cx="524.8" cy="257.2" r="2.3"/>
<circle cx="561.5" cy="265.6" r="2.3"/>
<circle cx="598.2" cy="222.0" r="2.3"/>
</g>
<polyline fill="none" stroke="#1e3cff" stroke-width="2.3" points="47.7,260.2 84.4,261.5 121.1,262.9 157.8,264.5 194.5,266.1 231.2,267.9 267.9,269.8 304.6,271.9 341.3,274.0 378.0,276.3 414.7,278.7 451.4,281.3 488.1,283.9 524.8,286.7 561.5,289.6 598.2,292.6"/>
<polyline fill="none" stroke="#000" stroke-width="1.05" stroke-linejoin="round" points="47.7,229.3 84.4,213.4 121.1,230.0 157.8,258.0 194.5,260.3 231.2,281.2 267.9,341.0 304.6,374.4 341.3,371.5 378.0,350.0 414.7,321.5 451.4,305.7 488.1,303.6 524.8,294.0 561.5,286.4 598.2,271.6"/>
<circle cx="47.7" cy="229.3" r="2.5" fill="#000"/>
<circle cx="84.4" cy="213.4" r="2.5" fill="#000"/>
<circle cx="121.1" cy="230.0" r="2.5" fill="#000"/>
<circle cx="157.8" cy="258.0" r="2.5" fill="#000"/>
<circle cx="194.5" cy="260.3" r="2.5" fill="#000"/>
<circle cx="231.2" cy="281.2" r="2.5" fill="#000"/>
<circle cx="267.9" cy="341.0" r="2.5" fill="#000"/>
<circle cx="304.6" cy="374.4" r="2.5" fill="#000"/>
<circle cx="341.3" cy="371.5" r="2.5" fill="#000"/>
<circle cx="378.0" cy="350.0" r="2.5" fill="#000"/>
<circle cx="414.7" cy="321.5" r="2.5" fill="#000"/>
<circle cx="451.4" cy="305.7" r="2.5" fill="#000"/>
<circle cx="488.1" cy="303.6" r="2.5" fill="#000"/>
<circle cx="524.8" cy="294.0" r="2.5" fill="#000"/>
<circle cx="561.5" cy="286.4" r="2.5" fill="#000"/>
<circle cx="598.2" cy="271.6" r="2.5" fill="#000"/>
</g>
<rect x="47.7" y="97.3" width="550.6999999999999" height="353.7" fill="none" stroke="#000" stroke-width="1.5"/>
<line x1="43.2" x2="47.7" y1="409.4" y2="409.4" stroke="#000" stroke-width="1.2"/>
<text x="39.8" y="414.0" font-size="12.8" text-anchor="end" fill="#000" textLength="14.2" lengthAdjust="spacingAndGlyphs">60</text>
<line x1="43.2" x2="47.7" y1="358.5" y2="358.5" stroke="#000" stroke-width="1.2"/>
<text x="39.8" y="363.1" font-size="12.8" text-anchor="end" fill="#000" textLength="14.2" lengthAdjust="spacingAndGlyphs">65</text>
<line x1="43.2" x2="47.7" y1="307.6" y2="307.6" stroke="#000" stroke-width="1.2"/>
<text x="39.8" y="312.2" font-size="12.8" text-anchor="end" fill="#000" textLength="14.2" lengthAdjust="spacingAndGlyphs">70</text>
<line x1="43.2" x2="47.7" y1="256.7" y2="256.7" stroke="#000" stroke-width="1.2"/>
<text x="39.8" y="261.3" font-size="12.8" text-anchor="end" fill="#000" textLength="14.2" lengthAdjust="spacingAndGlyphs">75</text>
<line x1="43.2" x2="47.7" y1="205.8" y2="205.8" stroke="#000" stroke-width="1.2"/>
<text x="39.8" y="210.4" font-size="12.8" text-anchor="end" fill="#000" textLength="14.2" lengthAdjust="spacingAndGlyphs">80</text>
<line x1="43.2" x2="47.7" y1="154.9" y2="154.9" stroke="#000" stroke-width="1.2"/>
<text x="39.8" y="159.5" font-size="12.8" text-anchor="end" fill="#000" textLength="14.2" lengthAdjust="spacingAndGlyphs">85</text>
<line x1="43.2" x2="47.7" y1="104.0" y2="104.0" stroke="#000" stroke-width="1.2"/>
<text x="39.8" y="108.6" font-size="12.8" text-anchor="end" fill="#000" textLength="14.2" lengthAdjust="spacingAndGlyphs">90</text>
<line x1="84.4" x2="84.4" y1="451.0" y2="455.5" stroke="#000" stroke-width="1.2"/>
<text x="84.6" y="466.2" font-size="12.4" text-anchor="middle" fill="#000" textLength="34.6" lengthAdjust="spacingAndGlyphs">19AUG</text>
<line x1="157.8" x2="157.8" y1="451.0" y2="455.5" stroke="#000" stroke-width="1.2"/>
<text x="158.0" y="466.2" font-size="12.4" text-anchor="middle" fill="#000" textLength="34.6" lengthAdjust="spacingAndGlyphs">21AUG</text>
<line x1="231.2" x2="231.2" y1="451.0" y2="455.5" stroke="#000" stroke-width="1.2"/>
<text x="231.4" y="466.2" font-size="12.4" text-anchor="middle" fill="#000" textLength="34.6" lengthAdjust="spacingAndGlyphs">23AUG</text>
<line x1="304.6" x2="304.6" y1="451.0" y2="455.5" stroke="#000" stroke-width="1.2"/>
<text x="304.8" y="466.2" font-size="12.4" text-anchor="middle" fill="#000" textLength="34.6" lengthAdjust="spacingAndGlyphs">25AUG</text>
<line x1="378.0" x2="378.0" y1="451.0" y2="455.5" stroke="#000" stroke-width="1.2"/>
<text x="378.2" y="466.2" font-size="12.4" text-anchor="middle" fill="#000" textLength="34.6" lengthAdjust="spacingAndGlyphs">27AUG</text>
<line x1="451.4" x2="451.4" y1="451.0" y2="455.5" stroke="#000" stroke-width="1.2"/>
<text x="451.6" y="466.2" font-size="12.4" text-anchor="middle" fill="#000" textLength="34.6" lengthAdjust="spacingAndGlyphs">29AUG</text>
<line x1="561.5" x2="561.5" y1="451.0" y2="455.5" stroke="#000" stroke-width="1.2"/>
<text x="561.7" y="466.2" font-size="12.4" text-anchor="middle" fill="#000" textLength="27.6" lengthAdjust="spacingAndGlyphs">1SEP</text>
<text x="84.6" y="477.9" font-size="12.4" text-anchor="middle" fill="#000" textLength="26.2" lengthAdjust="spacingAndGlyphs">2025</text>
<circle cx="6.2" cy="256.8" r="2.2" fill="none" stroke="#1c1c1c" stroke-width="1.2"/>
<path d="M11.4 265 V254.6 H18.8 M11.4 259.6 H16.6" fill="none" stroke="#1c1c1c" stroke-width="1.25"/>
<text transform="translate(181.94,19.8) scale(1.0,1)" font-size="18.2" textLength="25.85" lengthAdjust="spacing" stroke="#fff" stroke-width="0.15">US</text>
<text transform="translate(218.99,19.8) scale(1.08,1)" font-size="18.2" textLength="84.32" lengthAdjust="spacing" stroke="#fff" stroke-width="0.15">Soybeans</text>
<text transform="translate(321.46,19.8) scale(1.08,1)" font-size="18.2" textLength="111.56" lengthAdjust="spacing" stroke="#fff" stroke-width="0.15">Temperature</text>
<text transform="translate(64.65,42.4) scale(1.1,1)" font-size="14.2" textLength="61.55" lengthAdjust="spacing">Forecast</text>
<text transform="translate(142.01,42.4) scale(1.1,1)" font-size="14.2" textLength="31.59" lengthAdjust="spacing">Daily</text>
<text transform="translate(191.65,42.4) scale(1.1,1)" font-size="14.2" textLength="36.55" lengthAdjust="spacing">Mean</text>
<text transform="translate(241.38,42.4) scale(1.1,1)" font-size="14.2" textLength="89.75" lengthAdjust="spacing">Temperature</text>
<text transform="translate(349.45,42.4) scale(1.1,1)" font-size="14.2" textLength="72.44" lengthAdjust="spacing">Compared</text>
<text transform="translate(438.36,42.4) scale(1.1,1)" font-size="14.2" textLength="14.03" lengthAdjust="spacing">to</text>
<text transform="translate(462.65,42.4) scale(1.1,1)" font-size="14.2" textLength="51.36" lengthAdjust="spacing">Normal</text>
<text transform="translate(528.01,42.4) scale(1.1,1)" font-size="14.2" textLength="27.94" lengthAdjust="spacing">(°F)</text>
<text transform="translate(171.01,62.2) scale(1.1,1)" font-size="14.2" textLength="76.88" lengthAdjust="spacing">Production</text>
<text transform="translate(269.55,62.2) scale(1.1,1)" font-size="14.2" textLength="62.83" lengthAdjust="spacing">Weighted</text>
<text transform="translate(347.96,62.2) scale(1.1,1)" font-size="14.2" textLength="30.07" lengthAdjust="spacing">Area</text>
<text transform="translate(391.19,62.2) scale(1.1,1)" font-size="14.2" textLength="55.20" lengthAdjust="spacing">Average</text>
<text transform="translate(121.31,82.1) scale(1.1,1)" font-size="14.2" textLength="16.83" lengthAdjust="spacing">15</text>
<text transform="translate(154.44,82.1) scale(1.1,1)" font-size="14.2" textLength="26.47" lengthAdjust="spacing">Day</text>
<text transform="translate(194.07,82.1) scale(1.1,1)" font-size="14.2" textLength="65.01" lengthAdjust="spacing">Forecast</text>
<text transform="translate(275.60,82.1) scale(1.1,1)" font-size="14.2" textLength="72.99" lengthAdjust="spacing">Beginning</text>
<text transform="translate(366.31,82.1) scale(1.1,1)" font-size="14.2" textLength="17.44" lengthAdjust="spacing">18</text>
<text transform="translate(395.73,82.1) scale(1.1,1)" font-size="14.2" textLength="50.57" lengthAdjust="spacing">August</text>
<text transform="translate(461.71,82.1) scale(1.1,1)" font-size="14.2" textLength="37.80" lengthAdjust="spacing">2025</text>
<text transform="translate(58.79,113.2) scale(1.08,1)" font-size="11.5" textLength="45.44" lengthAdjust="spacing">National</text>
<text transform="translate(116.02,113.2) scale(1.08,1)" font-size="11.5" textLength="43.22" lengthAdjust="spacing">Weather</text>
<text transform="translate(170.79,113.2) scale(1.08,1)" font-size="11.5" textLength="39.94" lengthAdjust="spacing">Service</text>
<text transform="translate(221.82,113.2) scale(1.08,1)" font-size="11.5" textLength="34.06" lengthAdjust="spacing">Global</text>
<text transform="translate(265.64,113.2) scale(1.08,1)" font-size="11.5" textLength="48.53" lengthAdjust="spacing">Forecast</text>
<text transform="translate(325.12,113.2) scale(1.08,1)" font-size="11.5" textLength="40.92" lengthAdjust="spacing">System</text>
<text transform="translate(115.16,129.0) scale(1.08,1)" font-size="11.5" textLength="53.27" lengthAdjust="spacing">Ensemble</text>
<text transform="translate(180.85,129.0) scale(1.08,1)" font-size="11.5" textLength="50.12" lengthAdjust="spacing">Members</text>
<text transform="translate(322.79,129.0) scale(1.08,1)" font-size="11.5" textLength="53.54" lengthAdjust="spacing">Ensemble</text>
<text transform="translate(388.51,129.0) scale(1.08,1)" font-size="11.5" textLength="43.96" lengthAdjust="spacing">Average</text>
<text transform="translate(530.79,129.0) scale(1.08,1)" font-size="11.5" textLength="40.75" lengthAdjust="spacing">Normal</text>
<text transform="translate(478.49,443.7) scale(1.08,1)" font-size="10.8" textLength="29.43" lengthAdjust="spacing">World</text>
<text transform="translate(517.56,443.7) scale(1.08,1)" font-size="10.8" textLength="13.48" lengthAdjust="spacing">Ag</text>
<text transform="translate(539.45,443.7) scale(1.08,1)" font-size="10.8" textLength="44.35" lengthAdjust="spacing">Weather</text>
<line x1="177.6" x2="189.9" y1="38.1" y2="38.1" stroke="#000" stroke-width="1.3"/>
<line x1="256.0" x2="269.1" y1="57.9" y2="57.9" stroke="#000" stroke-width="1.3"/>
<line x1="141.5" x2="154.3" y1="77.8" y2="77.8" stroke="#000" stroke-width="1.3"/>
<line x1="64.7" x2="103.5" y1="125.1" y2="125.1" stroke="#aaaaaa" stroke-width="1.2"/>
<circle cx="64.7" cy="125.1" r="2.4" fill="#aaaaaa"/><circle cx="103.5" cy="125.1" r="2.4" fill="#aaaaaa"/>
<rect x="272.7" y="120.6" width="38.9" height="4.5" fill="#5aa8ff"/>
<rect x="272.7" y="125.1" width="38.9" height="3.6" fill="#fb5b5b"/>
<line x1="272.7" x2="311.6" y1="125.2" y2="125.2" stroke="#000" stroke-width="1.4"/>
<circle cx="272.7" cy="125.2" r="2.6" fill="#000"/><circle cx="311.6" cy="125.2" r="2.6" fill="#000"/>
<line x1="479.4" x2="520.9" y1="124.9" y2="124.9" stroke="#1e3cff" stroke-width="2.3"/>
<circle cx="467.8" cy="439.8" r="4.9" fill="none" stroke="#1c1c1c" stroke-width="1.1"/>
<path d="M469.9 438.2 A2.6 2.6 0 1 0 469.9 441.4" fill="none" stroke="#1c1c1c" stroke-width="1.1"/>
</svg></body></html>
